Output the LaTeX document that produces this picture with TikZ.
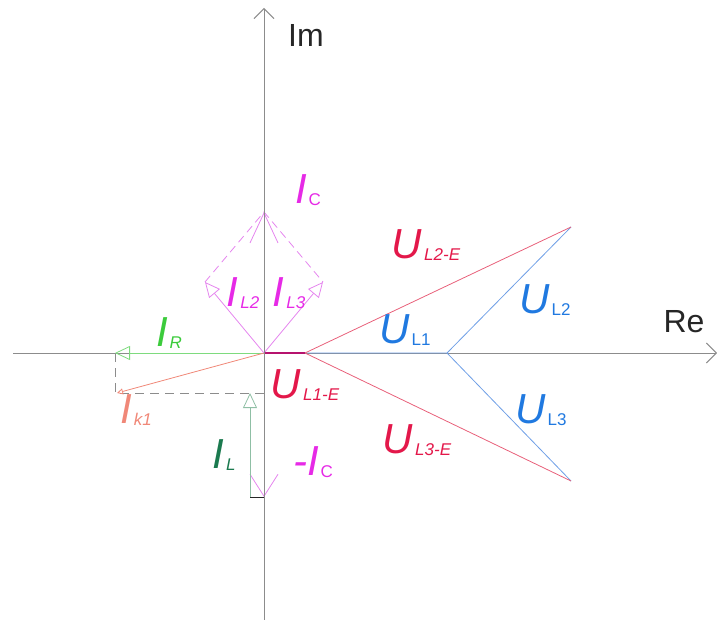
\documentclass[tikz,border=0pt]{standalone}
\usepackage{fontspec}
\setmainfont{Liberation Sans}
\usepackage{xcolor}
\definecolor{axisc}{HTML}{8C8C8C}
\definecolor{txtc}{HTML}{262626}
\definecolor{magc}{HTML}{E62AE6}
\definecolor{maglc}{HTML}{E585EE}
\definecolor{grc}{HTML}{3CCB3C}
\definecolor{grlc}{HTML}{7EDB7E}
\definecolor{dgc}{HTML}{1B7A4F}
\definecolor{dglc}{HTML}{8FBFA5}
\definecolor{salc}{HTML}{F08878}
\definecolor{redc}{HTML}{E3184A}
\definecolor{redlc}{HTML}{E8607A}
\definecolor{bluc}{HTML}{2079E0}
\definecolor{blulc}{HTML}{6F9FE6}
\usepackage{tikz}
\usetikzlibrary{arrows.meta,positioning}
\tikzset{
  axis/.style={draw=axisc,line width=0.9pt,-{Straight Barb[length=10pt,width=20pt,line width=0.9pt]}},
  vec/.style={line width=0.8pt},
  tri/.style={-{Triangle[open,length=15pt,width=14pt,line width=0.8pt]}},
  vee/.style={-{Straight Barb[length=#1,width=28pt,line width=0.8pt]}},
  aux/.style={draw=axisc,line width=0.9pt,dash pattern=on 9pt off 6pt},
  axlab/.style={font=\fontsize{32}{32}\selectfont,text=txtc,inner sep=0pt},
  lab/.style={inner sep=0pt},
}
\newcommand{\vlab}[2]{{\fontsize{42}{42}\selectfont\itshape #1}\kern2pt\raisebox{-2pt}{\fontsize{17}{17}\selectfont #2}}
\begin{document}
\begin{tikzpicture}[x=1pt,y=-1pt]
  \useasboundingbox (0,0) rectangle (717,620);
  % points
  \coordinate (O) at (264,353);
  \coordinate (N) at (305,353);
  \coordinate (S) at (447,353);
  \coordinate (P2) at (571,227);
  \coordinate (P3) at (571,481);
  \coordinate (L2) at (205,282);
  \coordinate (L3) at (323,282);
  \coordinate (C) at (264,212);
  \coordinate (MC) at (264,497);
  \coordinate (R) at (115,353);
  \coordinate (K) at (117,393);
  \coordinate (LB) at (250,497);
  \coordinate (LT) at (250,393);
  \coordinate (X0) at (13,353);
  \coordinate (X1) at (717,353);
  \coordinate (Y0) at (264,620);
  \coordinate (Y1) at (264,8);
  % real axis
  \draw[axis] (X0) -- (X1);
  % voltages
  \draw[vec,draw=blulc] (O) -- (S) -- (P2) (S) -- (P3);
  \draw[vec,draw=redlc] (P2) -- (N) -- (P3);
  \draw[line width=1.3pt,draw=redc!80!blue] (O) -- (N);
  % currents
  \draw[aux] (R) -- (R |- K) -- (O |- K);
  \draw[vec,draw=grlc,tri] (O) -- (R);
  \draw[vec,draw=salc,-{Triangle[open,length=6pt,width=6pt,line width=0.8pt]}] (O) -- (K);
  \draw[vec,draw=maglc,tri] (O) -- (L2);
  \draw[vec,draw=maglc,tri] (O) -- (L3);
  \draw[vec,draw=maglc,dash pattern=on 8pt off 5pt] (L2) -- (C) -- (L3);
  \draw[vec,draw=maglc,vee=30pt] (O) -- (C);
  \draw[vec,draw=maglc,vee=22pt] (O) -- (MC);
  \draw[vec,draw=dglc,tri] (LB) -- (LT);
  \draw[line width=0.9pt,draw=txtc] (LB) -- (MC);
  % imaginary axis
  \draw[axis] (Y0) -- (Y1);
  % labels
  \node[axlab] (im) at (306,35) {Im};
  \node[axlab] (re) at (684,322) {Re};
  \node[lab,text=magc] (ic) at (308,190) {\vlab{I}{C}};
  \node[lab,text=magc] (il2) at (243,293) {\vlab{I}{\itshape L2}};
  \node[lab,text=magc] (il3) at (289,293) {\vlab{I}{\itshape L3}};
  \node[lab,text=grc] (ir) at (169,333) {\vlab{I}{\itshape R}};
  \node[lab,text=salc] (ik) at (136,410) {\vlab{I}{\itshape k1}};
  \node[lab,text=dgc] (il) at (224,455) {\vlab{I}{\itshape L}};
  \node[lab,text=magc] (mic) at (313,462) {\vlab{-I}{C}};
  \node[lab,text=redc] (u1e) at (305,385) {\vlab{U}{\itshape L1-E}};
  \node[lab,text=redc] (u2e) at (426,245) {\vlab{U}{\itshape L2-E}};
  \node[lab,text=redc] (u3e) at (417,440) {\vlab{U}{\itshape L3-E}};
  \node[lab,text=bluc] (u1) at (405,330) {\vlab{U}{L1}};
  \node[lab,text=bluc] (u2) at (545,300) {\vlab{U}{L2}};
  \node[lab,text=bluc] (u3) at (541,410) {\vlab{U}{L3}};
\end{tikzpicture}
\end{document}
